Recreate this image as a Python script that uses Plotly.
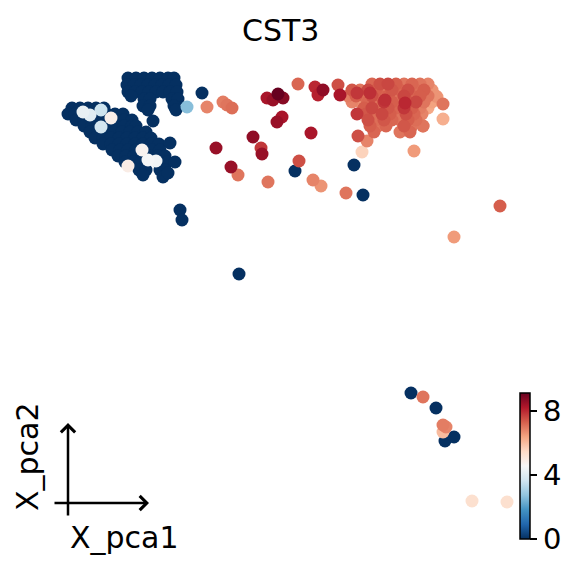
import plotly.graph_objects as go

# --- blue cells (CST3 ~ 0): upper blob + lower diagonal blob ---
blob_pc1 = [12.8, 13.6, 14.4, 15.2, 16.0, 16.8, 17.4,
            12.7, 13.4, 14.1, 14.8, 15.5, 16.2, 16.9, 17.6,
            12.8, 13.5, 14.2, 14.9, 15.6, 16.3, 17.0, 17.7,
            14.4, 15.0, 17.2, 17.8, 13.1,
            14.3, 15.0, 17.4, 14.8, 17.6,
            7.2, 8.0, 8.8, 9.6, 10.4,
            6.8, 7.5, 8.3, 9.1, 9.9, 10.7, 11.5, 12.3,
            7.6, 8.4, 9.2, 10.0, 10.8, 11.6, 12.4, 13.2,
            8.4, 9.2, 10.0, 10.8, 11.6, 12.4, 13.2, 13.6,
            9.0, 9.8, 10.6, 11.4, 12.2, 13.0, 13.8, 14.6,
            9.5, 10.3, 11.1, 11.9, 12.7, 13.5, 14.3, 15.1,
            10.3, 11.1, 11.9, 12.7, 13.5, 14.3, 15.1, 15.9,
            11.2, 12.0, 12.8, 13.6, 14.4, 15.2, 16.0,
            11.8, 12.6, 13.4, 14.2, 15.0, 15.8, 16.5,
            12.5, 13.3, 14.1, 15.8, 16.7,
            13.9, 14.6, 16.0, 16.5,
            15.3, 17.0, 17.5, 14.3, 16.3, 16.8]
blob_pc2 = [-7.8, -7.8, -7.8, -7.8, -7.8, -7.8, -7.8,
            -8.5, -8.5, -8.5, -8.5, -8.5, -8.5, -8.5, -8.5,
            -9.2, -9.2, -9.2, -9.2, -9.2, -9.2, -9.2, -9.2,
            -9.9, -9.9, -9.9, -9.9, -9.6,
            -10.6, -10.6, -10.6, -11.0, -11.0,
            -10.8, -10.8, -10.8, -10.8, -10.8,
            -11.4, -11.4, -11.4, -11.4, -11.4, -11.4, -11.4, -11.4,
            -12.0, -12.0, -12.0, -12.0, -12.0, -12.0, -12.0, -12.0,
            -12.6, -12.6, -12.6, -12.6, -12.6, -12.6, -12.6, -12.6,
            -13.2, -13.2, -13.2, -13.2, -13.2, -13.2, -13.2, -13.2,
            -13.8, -13.8, -13.8, -13.8, -13.8, -13.8, -13.8, -13.8,
            -14.4, -14.4, -14.4, -14.4, -14.4, -14.4, -14.4, -14.4,
            -15.0, -15.0, -15.0, -15.0, -15.0, -15.0, -15.0,
            -15.6, -15.6, -15.6, -15.6, -15.6, -15.6, -15.6,
            -16.2, -16.2, -16.2, -16.2, -16.2,
            -17.0, -17.0, -17.0, -17.0,
            -12.1, -14.3, -16.2, -17.5, -17.7, -17.3]
blob_cst3 = [0.0, 0.0, 0.0, 0.0, 0.0, 0.0, 0.0,
             0.0, 0.0, 0.0, 0.0, 0.0, 0.0, 0.0, 0.0,
             0.0, 0.0, 0.0, 0.0, 0.0, 0.0, 0.0, 0.0,
             0.0, 0.0, 0.0, 0.0, 0.0,
             0.0, 0.0, 0.0, 0.0, 0.0,
             0.0, 0.0, 0.0, 0.0, 0.0,
             0.0, 0.0, 0.0, 0.0, 0.0, 0.0, 0.0, 0.0,
             0.0, 0.0, 0.0, 0.0, 0.0, 0.0, 0.0, 0.0,
             0.0, 0.0, 0.0, 0.0, 0.0, 0.0, 0.0, 0.0,
             0.0, 0.0, 0.0, 0.0, 0.0, 0.0, 0.0, 0.0,
             0.0, 0.0, 0.0, 0.0, 0.0, 0.0, 0.0, 0.0,
             0.0, 0.0, 0.0, 0.0, 0.0, 0.0, 0.0, 0.0,
             0.0, 0.0, 0.0, 0.0, 0.0, 0.0, 0.0,
             0.0, 0.0, 0.0, 0.0, 0.0, 0.0, 0.0,
             0.0, 0.0, 0.0, 0.0, 0.0,
             0.0, 0.0, 0.0, 0.0,
             0.0, 0.0, 0.0, 0.0, 0.0, 0.0]

# --- scattered cells outside the dense blobs ---
stray_pc1 = [8.3, 9.0, 10.1, 11.1, 10.1, 14.2, 14.8, 15.6, 12.8, 18.7,
             20.2, 18.0, 18.2, 23.9, 29.5, 35.4, 36.3, 41.1, 43.6, 44.5, 45.4,
             20.7, 22.3, 22.7, 23.2, 26.7, 27.8, 28.3, 27.3, 29.8, 31.5,
             32.3, 31.8, 33.8, 34.0, 35.7, 37.0, 38.5, 40.5, 35.7, 28.2,
             27.7, 25.3, 21.6, 26.1, 26.2, 31.1, 23.1, 23.8, 26.8, 29.9,
             31.3, 32.1, 34.6, 35.8, 36.7, 36.2, 41.4, 42.3, 44.3, 44.3,
             43.7, 50.0, 45.4, 42.3, 44.3, 44.6, 44.3, 47.2, 50.7]
stray_pc2 = [-11.2, -11.5, -11.0, -11.8, -12.7, -15.0, -16.0, -16.1, -16.6, -10.7,
             -9.3, -21.0, -22.0, -27.4, -17.1, -16.5, -19.5, -39.3, -40.8, -44.1, -43.7,
             -10.7, -10.2, -10.5, -10.8, -9.8, -9.4, -9.8, -10.0, -8.4, -8.7,
             -9.0, -9.5, -8.5, -9.5, -9.3, -9.3, -10.0, -10.3, -11.4, -11.7,
             -12.2, -13.7, -14.8, -14.8, -15.4, -13.3, -16.7, -17.5, -18.2, -16.1,
             -18.0, -18.6, -19.3, -13.6, -14.1, -15.2, -15.1, -12.6, -11.9, -10.4,
             -9.7, -20.6, -23.7, -39.7, -42.5, -42.7, -43.2, -50.1, -50.2]
stray_cst3 = [4.2, 4.0, 3.6, 4.8, 3.7, 4.7, 4.5, 4.4, 4.9, 2.6,
              0.0, 0.0, 0.0, 0.0, 0.0, 0.0, 0.0, 0.0, 0.0, 0.0, 0.0,
              6.8, 6.9, 7.0, 7.1, 8.3, 9.1, 8.7, 8.5, 7.2, 8.0,
              8.6, 8.1, 7.5, 8.3, 7.8, 7.9, 7.9, 8.0, 7.8, 8.3,
              8.5, 8.6, 8.5, 7.8, 8.5, 8.3, 8.5, 7.0, 7.0, 7.5,
              6.8, 6.6, 7.0, 7.5, 6.8, 5.6, 6.5, 6.8, 6.2, 7.0,
              6.5, 7.3, 6.5, 7.0, 6.9, 6.8, 6.0, 5.3, 5.3]

# --- dense red cluster on the right ---
red_pc1 = [37.2, 38.0, 38.8, 39.6, 40.4, 41.2, 42.0, 42.8,
           35.2, 36.0, 36.8, 37.6, 38.4, 39.2, 40.0, 40.8, 41.6, 42.4, 43.2,
           34.8, 35.6, 36.4, 37.2, 38.0, 38.8, 39.6, 40.4, 41.2, 42.0, 42.8, 43.6,
           35.2, 36.0, 36.8, 37.6, 38.4, 39.2, 40.0, 40.8, 41.6, 42.4, 43.2,
           36.4, 37.2, 38.0, 38.8, 39.6, 40.4, 41.2, 42.0, 42.8,
           36.6, 37.4, 38.2, 39.0, 39.8, 40.6, 41.4, 42.2,
           36.8, 37.6, 38.4, 39.2, 40.0, 40.8, 41.6,
           37.0, 37.8, 38.6, 40.4, 41.2, 42.3,
           37.4, 40.0, 41.0]
red_pc2 = [-8.4, -8.4, -8.4, -8.4, -8.4, -8.4, -8.4, -8.4,
           -9.0, -9.0, -9.0, -9.0, -9.0, -9.0, -9.0, -9.0, -9.0, -9.0, -9.0,
           -9.6, -9.6, -9.6, -9.6, -9.6, -9.6, -9.6, -9.6, -9.6, -9.6, -9.6, -9.6,
           -10.2, -10.2, -10.2, -10.2, -10.2, -10.2, -10.2, -10.2, -10.2, -10.2, -10.2,
           -10.8, -10.8, -10.8, -10.8, -10.8, -10.8, -10.8, -10.8, -10.8,
           -11.4, -11.4, -11.4, -11.4, -11.4, -11.4, -11.4, -11.4,
           -12.0, -12.0, -12.0, -12.0, -12.0, -12.0, -12.0,
           -12.6, -12.6, -12.6, -12.6, -12.6, -12.6,
           -13.2, -13.2, -13.2]
red_cst3 = [7.2, 7.5, 7.6, 7.3, 7.0, 7.2, 7.0, 6.8,
            7.4, 7.0, 7.6, 7.3, 7.0, 7.4, 7.2, 7.5, 7.1, 7.3, 6.6,
            6.9, 7.3, 7.1, 7.5, 7.2, 7.3, 7.0, 7.6, 7.2, 7.3, 7.0, 6.6,
            6.8, 6.6, 7.2, 7.0, 7.8, 7.3, 7.1, 7.4, 7.6, 7.0, 6.4,
            7.3, 7.6, 7.1, 7.4, 7.2, 7.8, 7.3, 6.9, 6.3,
            7.4, 7.0, 7.6, 7.3, 7.0, 7.5, 7.2, 6.8,
            7.5, 7.1, 7.4, 7.2, 7.0, 7.3, 7.1,
            7.3, 7.0, 7.2, 7.4, 7.0, 7.0,
            7.2, 7.0, 7.2]

pc1 = blob_pc1 + stray_pc1 + red_pc1
pc2 = blob_pc2 + stray_pc2 + red_pc2
cst3 = blob_cst3 + stray_cst3 + red_cst3

# high values drawn on top
order = sorted(range(len(cst3)), key=lambda i: cst3[i])
xs = [pc1[i] for i in order]
ys = [pc2[i] for i in order]
cs = [cst3[i] for i in order]

rdbu_r = ["rgb(5,48,97)", "rgb(33,102,172)", "rgb(67,147,195)", "rgb(146,197,222)",
          "rgb(209,229,240)", "rgb(247,247,247)", "rgb(253,219,199)", "rgb(244,165,130)",
          "rgb(214,96,77)", "rgb(178,24,43)", "rgb(103,0,31)"]
cscale = [[i / 10, c] for i, c in enumerate(rdbu_r)]

# page body has an 8px margin, so the figure is drawn 8px in from the corner
OFF = 8
W, H = 581 - OFF, 574 - OFF
font = "DejaVu Sans"


def px(p):
    return (p - OFF) / W


def py(p):
    return 1 - (p - OFF) / H


fig = go.Figure()
fig.add_trace(go.Scatter(
    x=xs, y=ys, mode="markers",
    marker=dict(size=13, color=cs, colorscale=cscale, cmin=0, cmax=9.1,
                line=dict(width=0),
                colorbar=dict(x=px(520), xanchor="left", xpad=0,
                              y=py(539), yanchor="bottom", ypad=0,
                              len=146, lenmode="pixels", thickness=10,
                              outlinewidth=1.5, outlinecolor="black",
                              tickvals=[0, 4, 8], ticks="outside", ticklen=7,
                              tickwidth=1.5, tickcolor="black",
                              tickfont=dict(family=font, size=29, color="black"))),
    showlegend=False, hoverinfo="skip"))

fig.update_xaxes(range=[OFF / 10, 58.1], visible=False)
fig.update_yaxes(range=[-57.4, -OFF / 10], visible=False)

anns = [
    dict(text="CST3", x=px(280), y=py(30), font=dict(size=30)),
    dict(text="X_pca1", x=px(124), y=py(537), font=dict(size=30)),
    dict(text="X_pca2", x=px(27), y=py(457), textangle=-90, font=dict(size=30)),
]
for a in anns:
    a.update(xref="paper", yref="paper", showarrow=False, xanchor="center", yanchor="middle")
    a["font"].update(family=font, color="black")
# axis arrows
anns.append(dict(text="", x=px(68), y=py(423), xref="paper", yref="paper",
                 ax=0, ay=94, showarrow=True, arrowhead=4, arrowsize=1.1,
                 arrowwidth=2.5, arrowcolor="black"))
anns.append(dict(text="", x=px(149), y=py(503), xref="paper", yref="paper",
                 ax=-96, ay=0, showarrow=True, arrowhead=4, arrowsize=1.1,
                 arrowwidth=2.5, arrowcolor="black"))

fig.update_layout(width=W, height=H, margin=dict(l=0, r=0, t=0, b=0),
                  paper_bgcolor="white", plot_bgcolor="white",
                  annotations=anns)

fig.write_html("out.html")
